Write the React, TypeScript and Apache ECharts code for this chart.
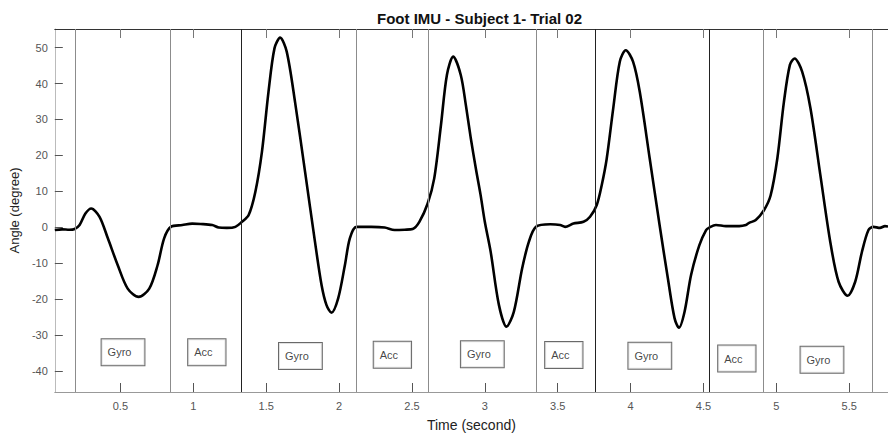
import React, { useEffect, useRef } from "react";
import * as echarts from "echarts";

const timeSec: number[] = [
  0.05, 0.1, 0.15, 0.186, 0.22, 0.26, 0.3, 0.357, 0.414, 0.482, 0.55, 0.625, 0.698, 0.755, 0.8, 0.846, 0.925, 0.993,
  1.05, 1.13, 1.175, 1.23, 1.289, 1.334, 1.38, 1.426, 1.471, 1.516, 1.557, 1.596, 1.641, 1.698, 1.767, 1.835, 1.88,
  1.914, 1.948, 1.994, 2.04, 2.074, 2.119, 2.221, 2.313, 2.381, 2.45, 2.505, 2.551, 2.608, 2.653, 2.699, 2.74, 2.783,
  2.835, 2.87, 2.903, 2.94, 2.971, 3.0, 3.04, 3.097, 3.149, 3.199, 3.256, 3.302, 3.351, 3.449, 3.517, 3.551, 3.608,
  3.677, 3.722, 3.768, 3.802, 3.836, 3.881, 3.926, 3.967, 4.017, 4.063, 4.131, 4.199, 4.256, 4.302, 4.332, 4.37,
  4.415, 4.472, 4.518, 4.54, 4.586, 4.654, 4.745, 4.791, 4.813, 4.859, 4.916, 4.961, 5.007, 5.052, 5.093, 5.125,
  5.177, 5.234, 5.302, 5.37, 5.427, 5.489, 5.541, 5.587, 5.632, 5.666, 5.711, 5.745, 5.766,
];

const angleDeg: number[] = [
  -0.8, -0.6, -0.7, -0.5, 0.6, 3.8, 5.2, 2.9, -3.1, -10.6, -17.1, -19.4, -17.1, -10.6, -3.1, 0.1, 0.6, 1.0,
  0.9, 0.6, -0.1, -0.2, 0.1, 1.5, 3.4, 9.9, 21.0, 37.7, 49.8, 52.8, 48.9, 34.9, 15.4, -4.1, -16.1,
  -21.7, -23.8, -19.8, -10.6, -3.1, 0.1, 0.1, -0.1, -0.8, -0.7, -0.5, 1.5, 6.6, 13.6, 28.4, 42.4, 47.5,
  42.4, 34, 25, 16, 9, 1.5, -6.8, -21.7, -27.7, -23.6, -11.5, -4.1, 0.1, 0.8, 0.6, 0.1, 1.0,
  1.5, 2.9, 6.2, 11.7, 19, 33.1, 46.1, 49.3, 46.1, 37.7, 19.2, 0.6, -14.3, -25.4, -28.0, -23.6,
  -13.3, -5.0, -0.8, -0.1, 0.6, 0.3, 0.3, 0.6, 1.2, 2.0, 4.8, 8.9, 19.2, 34.9, 45.2, 47.0,
  43.3, 33.1, 14.5, -4.1, -15.2, -19.1, -15.2, -6.9, -0.8, 0.1, -0.2, 0.3, 0.2,
];

// phase boundaries (time, whether drawn dark)
const boundaryTimes: number[] = [0.186, 0.841, 1.332, 2.117, 2.608, 3.351, 3.761, 4.536, 4.913, 5.655];
const boundaryDark: boolean[] = [false, false, true, false, false, false, true, true, false, false];

const phaseLabels: string[] = ["Gyro", "Acc", "Gyro", "Acc", "Gyro", "Acc", "Gyro", "Acc", "Gyro"];
const phaseLabelTime: number[] = [0.518, 1.093, 1.735, 2.366, 2.983, 3.542, 4.132, 4.729, 5.313];
const phaseLabelAngle: number[] = [-34.8, -34.8, -35.9, -35.5, -35.4, -35.6, -35.8, -36.6, -36.9];

const xTicks: number[] = [0.5, 1, 1.5, 2, 2.5, 3, 3.5, 4, 4.5, 5, 5.5];
const yTicks: number[] = [-40, -30, -20, -10, 0, 10, 20, 30, 40, 50];

const X_MIN = 0.05;
const X_MAX = 5.766;
const Y_MIN = -45.9;
const Y_MAX = 55.2;

const FONT = "Liberation Sans, Arial, sans-serif";

export default function App() {
  const ref = useRef<HTMLDivElement>(null);
  useEffect(() => {
    if (!ref.current) return;
    const chart = echarts.init(ref.current, undefined, { renderer: "svg" });
    const lineData = timeSec.map((t, i) => [t, angleDeg[i]]);
    const labelData = phaseLabels.map((n, i) => ({ name: n, value: [phaseLabelTime[i], phaseLabelAngle[i]] }));
    chart.setOption({
      animation: false,
      backgroundColor: "#ffffff",
      textStyle: { fontFamily: FONT },
      title: {
        text: "Foot IMU - Subject 1- Trial 02",
        left: 372,
        top: 6,
        textStyle: { fontFamily: FONT, fontSize: 15, fontWeight: "bold", color: "#111" },
      },
      grid: { left: 50, top: 29, right: 0, bottom: 45, containLabel: false },
      xAxis: [
        {
          type: "value",
          min: X_MIN,
          max: X_MAX,
          position: "bottom",
          name: "Time (second)",
          nameLocation: "middle",
          nameGap: 26,
          nameTextStyle: { fontFamily: FONT, fontSize: 14, color: "#222" },
          axisLine: { show: true, onZero: false, lineStyle: { color: "#999", width: 1 } },
          axisTick: { show: true, inside: true, length: 9, customValues: xTicks, lineStyle: { color: "#555" } },
          axisLabel: { customValues: xTicks, fontFamily: FONT, fontSize: 11, color: "#555", margin: 8 },
          splitLine: { show: false },
        },
        {
          type: "value",
          min: X_MIN,
          max: X_MAX,
          position: "top",
          axisLine: { show: true, onZero: false, lineStyle: { color: "#333", width: 1 } },
          axisTick: { show: true, inside: true, length: 9, customValues: xTicks, lineStyle: { color: "#777" } },
          axisLabel: { show: false },
          splitLine: { show: false },
        },
      ],
      yAxis: {
        type: "value",
        min: Y_MIN,
        max: Y_MAX,
        name: "Angle (degree)",
        nameLocation: "middle",
        nameGap: 28,
        nameTextStyle: { fontFamily: FONT, fontSize: 13, color: "#222" },
        axisLine: { show: true, onZero: false, lineStyle: { color: "#bbb", width: 1 } },
        axisTick: { show: true, inside: true, length: 8, customValues: yTicks, lineStyle: { color: "#555" } },
        axisLabel: { customValues: yTicks, fontFamily: FONT, fontSize: 11, color: "#555", margin: 7 },
        splitLine: { show: false },
      },
      series: [
        {
          type: "line",
          xAxisIndex: 0,
          data: lineData,
          showSymbol: false,
          smooth: 0.3,
          lineStyle: { color: "#000", width: 2.6 },
          z: 3,
          markLine: {
            silent: true,
            symbol: ["none", "none"],
            label: { show: false },
            data: boundaryTimes.map((t, i) => ({
              xAxis: t,
              lineStyle: { color: boundaryDark[i] ? "#222" : "#8c8c8c", width: 1, type: "solid" },
            })),
          },
        },
        {
          type: "scatter",
          xAxisIndex: 0,
          data: labelData,
          symbolSize: 1,
          itemStyle: { color: "rgba(0,0,0,0)" },
          z: 4,
          labelLayout: { hideOverlap: false },
          label: {
            show: true,
            position: "inside",
            formatter: (p: any) => p.name,
            fontFamily: FONT,
            fontSize: 11,
            lineHeight: 14,
            color: "#111",
            backgroundColor: "#fff",
            borderColor: "#444",
            borderWidth: 1,
            padding: [6, 13, 6, 6],
          },
        },
      ],
    });
    return () => chart.dispose();
  }, []);
  return <div ref={ref} style={{ position: "fixed", left: 0, top: 0, width: 888, height: 437 }} />;
}
